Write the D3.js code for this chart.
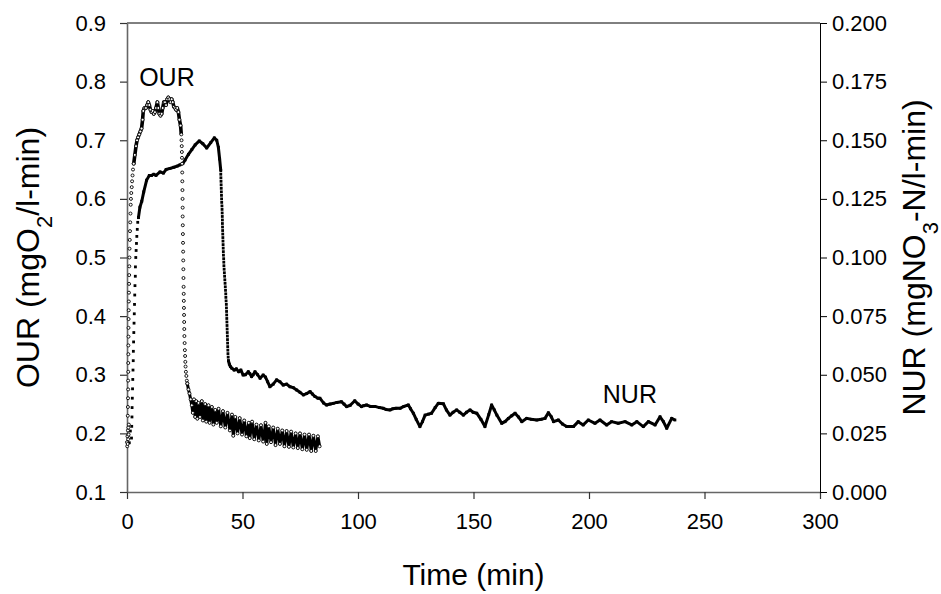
<!DOCTYPE html>
<html lang="en">
<head>
  <meta charset="utf-8">
  <script src="https://cdn.jsdelivr.net/npm/d3@7"></script>
  <style>
    body {
      margin: 0;
      background: #fff;
      font-family: "Liberation Sans", Arial, sans-serif;
    }
    .axis text {
      font-family: "Liberation Sans", Arial, sans-serif;
      font-size: 22px;
      fill: #000;
    }
    .axis-left .domain, .axis-bottom .domain { stroke: #666; stroke-width: 1.6; }
    .axis-left .tick line, .axis-bottom .tick line { stroke: #333; stroke-width: 1.2; }
    .axis-right .domain, .axis-right .tick line { stroke: #000; stroke-width: 1; }
    .title {
      font-family: "Liberation Sans", Arial, sans-serif;
      font-size: 30px;
      fill: #000;
    }
    .title.side { font-size: 32px; }
    .label {
      font-family: "Liberation Sans", Arial, sans-serif;
      font-size: 25px;
      fill: #000;
    }
    .dense { fill: none; stroke: #000; stroke-linejoin: round; }
    .our-dot { fill: #fff; stroke: #000; stroke-width: 0.9; }
    .nur-dot { fill: #000; }
  </style>
</head>
<body>
  <svg id="chart" width="941" height="594"></svg>
  <script>
    // axis ticks
    var timeTicks = [0, 50, 100, 150, 200, 250, 300];
    var ourTicks = [0.1, 0.2, 0.3, 0.4, 0.5, 0.6, 0.7, 0.8, 0.9];
    var nurTicks = [0, 0.025, 0.05, 0.075, 0.1, 0.125, 0.15, 0.175, 0.2];

    // OUR (mgO2/l-min), [time, value]
    var ourRise = [[0.0,0.185],[0.1,0.178],[0.2,0.195],[0.3,0.182],[0.4,0.205],[0.5,0.19],[0.6,0.21],[0.7,0.198],[0.8,0.215],
      [0.35,0.23],[0.4,0.245],[0.45,0.26],[0.5,0.275],[0.5,0.29],[0.55,0.305],[0.55,0.32],[0.6,0.335],[0.6,0.35],[0.65,0.365],
      [0.65,0.38],[0.7,0.395],[0.75,0.41],[0.8,0.425],[0.85,0.44],[0.9,0.455],[0.95,0.47],[1.0,0.485],[1.05,0.50],[1.1,0.515],
      [1.2,0.53],[1.3,0.545],[1.4,0.56],[1.5,0.575],[1.6,0.59],[1.7,0.60],[1.85,0.61],[2.05,0.62],[2.2,0.63],[2.4,0.64],[2.6,0.65],[2.9,0.66]];
    var ourPlateau = [[2.9,0.66],[3.4,0.675],[3.9,0.69],[4.35,0.70],[4.8,0.705],[5.3,0.71],[5.8,0.715],[6.3,0.72],[6.75,0.735],
      [7.05,0.75],[7.55,0.755],[8.2,0.755],[8.7,0.76],[9.2,0.765],[9.65,0.76],[10.15,0.752],[10.65,0.748],[11.1,0.75],[11.6,0.745],
      [12.1,0.748],[12.55,0.755],[13.15,0.765],[13.55,0.755],[14.0,0.745],[14.5,0.742],[15.0,0.745],[15.45,0.755],[15.95,0.765],
      [16.45,0.765],[16.9,0.76],[17.4,0.77],[17.9,0.773],[18.35,0.77],[18.85,0.765],[19.35,0.77],[19.8,0.765],[20.3,0.757],
      [20.8,0.755],[21.25,0.752],[21.75,0.755],[22.25,0.748],[22.7,0.735],[23.2,0.725],[23.5,0.71]];
    var ourDrop = [[23.6,0.70],[23.7,0.69],[23.75,0.68],[23.8,0.67],[23.85,0.66],[23.9,0.645],[23.95,0.63],[24.0,0.615],
      [24.05,0.60],[24.1,0.585],[24.1,0.57],[24.15,0.555],[24.2,0.54],[24.25,0.525],[24.3,0.51],[24.35,0.495],[24.4,0.48],
      [24.45,0.465],[24.5,0.45],[24.55,0.438],[24.6,0.426],[24.65,0.414],[24.7,0.402],[24.75,0.39],[24.8,0.378],[24.85,0.366],
      [24.95,0.354],[25.05,0.342],[25.15,0.332],[25.25,0.322],[25.35,0.314],[25.5,0.305],[25.7,0.298],[25.9,0.29],[26.1,0.285]];
    var ourTail = [[26.1,0.285],[26.6,0.275],[27.05,0.268],[27.55,0.258],[28.05,0.248],[28.5,0.235],[29,0.258],[29.5,0.228],
      [29.95,0.255],[30.45,0.225],[30.95,0.252],[31.6,0.228],[32.4,0.255],[32.85,0.222],[33.85,0.25],[34.3,0.22],[35.3,0.248],
      [35.75,0.218],[36.75,0.245],[37.4,0.215],[38.2,0.24],[38.85,0.218],[39.65,0.242],[40.6,0.212],[41.55,0.238],[42.55,0.21],
      [43.5,0.235],[44.55,0.205],[45.45,0.232],[46,0.196],[46.9,0.228],[47.85,0.2],[48.8,0.226],[49.8,0.198],[50.75,0.222],
      [51.7,0.195],[52.7,0.218],[53.15,0.192],[54.15,0.22],[55.1,0.19],[56.05,0.215],[57.05,0.188],[58,0.214],[58.95,0.186],
      [59.95,0.218],[60.5,0.182],[61.4,0.212],[62.35,0.185],[63.3,0.21],[64.3,0.18],[65.25,0.208],[66.2,0.182],[67.2,0.205],
      [68.15,0.178],[69.1,0.204],[70.1,0.177],[71.05,0.203],[72,0.176],[73,0.2],[73.95,0.175],[74.9,0.2],[75.9,0.173],
      [76.85,0.198],[77.8,0.172],[78.8,0.198],[79.75,0.17],[80.7,0.196],[81.7,0.17],[82.65,0.195],[83.4,0.178]];

    // NUR (mgNO3-N/l-min), [time, value]
    var nurRise = [[0.5,0.024],[1.0,0.021],[1.45,0.026],[1.95,0.023],[2.05,0.028],[2.15,0.032],[2.2,0.036],[2.3,0.04],[2.4,0.044],
      [2.5,0.048],[2.6,0.052],[2.7,0.056],[2.75,0.06],[2.85,0.064],[2.95,0.068],[3.05,0.072],[3.15,0.076],[3.25,0.08],
      [3.35,0.084],[3.45,0.088],[3.6,0.092],[3.65,0.096],[3.8,0.1],[3.95,0.103],[4.1,0.106],[4.25,0.109],[4.45,0.112],
      [4.65,0.115],[4.95,0.117]];
    var nurPlateau = [[4.95,0.117],[5.6,0.1215],[6.4,0.124],[7.25,0.128],[8.5,0.133],[9.65,0.135],[10.65,0.135],[11.6,0.1355],
      [12.55,0.135],[14.3,0.1365],[15.75,0.136],[16.9,0.1375],[18.65,0.138],[20.3,0.1385],[21.75,0.139],[22.9,0.1395],[24.15,0.14],
      [25.15,0.1416],[26.6,0.144],[28.05,0.146],[29.5,0.148],[31.3,0.1497],[32.85,0.1485],[34.5,0.1467],[36.25,0.149],[37.8,0.151],
      [38.85,0.15],[39.55,0.147],[40.1,0.142],[40.6,0.137]];
    var nurDrop = [[40.6,0.1355],[40.65,0.134],[40.7,0.1325],[40.75,0.131],[40.8,0.1295],[40.85,0.128],[40.9,0.1265],
      [40.95,0.125],[41.0,0.1235],[41.1,0.122],[41.15,0.1205],[41.2,0.119],[41.25,0.1175],[41.3,0.116],[41.3,0.1145],
      [41.35,0.113],[41.4,0.1115],[41.45,0.11],[41.5,0.1085],[41.55,0.107],[41.6,0.1055],[41.65,0.104],[41.7,0.1025],
      [41.75,0.101],[41.85,0.0995],[41.9,0.098],[41.95,0.0965],[42.05,0.095],[42.15,0.0935],[42.25,0.092],[42.35,0.0905],
      [42.45,0.089],[42.55,0.0875],[42.65,0.086],[42.75,0.0845],[42.8,0.083],[42.9,0.0815],[43.0,0.08],[43.05,0.0785],
      [43.1,0.077],[43.15,0.0755],[43.2,0.074],[43.25,0.0725],[43.3,0.071],[43.35,0.0695],[43.4,0.068],[43.45,0.0665],
      [43.5,0.065],[43.55,0.0635],[43.6,0.062],[43.65,0.0605],[43.7,0.059],[43.8,0.0575],[43.9,0.056]];
    var nurTail = [[43.9,0.056],[44.3,0.0545],[44.75,0.0535],[45.35,0.0528],[46.4,0.052],[47.35,0.0525],[48.35,0.0513],
      [49.3,0.052],[50.25,0.0499],[51.25,0.05],[52.5,0.0513],[53.15,0.0505],[53.95,0.0492],[54.6,0.05],[55.4,0.0513],
      [56.55,0.05],[57.6,0.0485],[58.95,0.0499],[59.95,0.049],[60.9,0.047],[61.85,0.0449],[63.3,0.046],[64.75,0.0478],
      [66.2,0.047],[67.65,0.0456],[69.1,0.046],[70.55,0.0449],[72,0.0445],[73.45,0.0435],[74.9,0.0425],[76.35,0.0414],
      [77.8,0.042],[79.25,0.0428],[80.25,0.0418],[81.4,0.0407],[82.65,0.04],[83.5,0.04],[85.05,0.038],[86.4,0.0371],
      [87.95,0.0375],[89.3,0.0378],[90.85,0.0382],[92.8,0.0385],[93.95,0.0375],[95.1,0.0364],[96.65,0.037],[98.6,0.0389],
      [100.05,0.0375],[101.5,0.0364],[102.45,0.0368],[103.7,0.0371],[105.35,0.0365],[107.3,0.0365],[109.25,0.036],
      [110.95,0.0357],[112.15,0.0352],[113.9,0.035],[115.05,0.0355],[116.5,0.0357],[118.2,0.0357],[119.85,0.0365],
      [121.8,0.0371],[122.75,0.0355],[123.95,0.0336],[125.2,0.031],[126.8,0.0279],[127.9,0.030],[129.05,0.0328],
      [130.5,0.0332],[131.85,0.0336],[133.4,0.036],[134.75,0.0378],[137,0.0376],[138.25,0.035],[139.8,0.0328],
      [141.15,0.034],[142.7,0.035],[144.05,0.034],[145.6,0.0328],[146.95,0.034],[148.5,0.035],[149.85,0.034],
      [151.4,0.0336],[153.2,0.031],[154.95,0.0279],[156.6,0.033],[157.85,0.0371],[159,0.035],[160.1,0.0328],
      [162.2,0.0293],[163.65,0.030],[165.1,0.0314],[166.55,0.0325],[168,0.0336],[169.45,0.032],[170.9,0.03],
      [173.05,0.0314],[175,0.031],[177.4,0.0307],[179.3,0.031],[180.95,0.0314],[182.4,0.0338],[183.7,0.032],
      [184.65,0.03],[186.75,0.0307],[188.5,0.029],[190.35,0.0279],[193.25,0.0279],[195.35,0.03],[197.5,0.0286],
      [199.7,0.0307],[202.6,0.0293],[204.75,0.0307],[207.65,0.0286],[209.75,0.03],[212.65,0.0293],[215.6,0.03],
      [218.5,0.0286],[220.7,0.03],[223.5,0.0279],[225.7,0.03],[228.6,0.0286],[230.75,0.0321],[232.2,0.03],
      [233.65,0.0272],[235.8,0.0314],[237.2,0.0307]];

    // in-plot labels: text, time, value, which axis
    var seriesLabels = [["OUR", 17.3, 0.7925, "left"], ["NUR", 217.7, 0.038, "right"]];

    var svg = d3.select("#chart");

    var x = d3.scaleLinear().domain([0, 300]).range([127, 820]);
    var yL = d3.scaleLinear().domain([0.1, 0.9]).range([492, 23]);
    var yR = d3.scaleLinear().domain([0, 0.2]).range([492, 23]);

    // frame top line
    svg.append("line")
        .attr("x1", x(0)).attr("x2", x(300))
        .attr("y1", yL(0.9)).attr("y2", yL(0.9))
        .attr("stroke", "#000").attr("stroke-width", 1);

    svg.append("g")
        .attr("class", "axis axis-bottom")
        .attr("transform", "translate(0," + yL(0.1) + ")")
        .call(d3.axisBottom(x).tickValues(timeTicks).tickSize(7).tickSizeOuter(0).tickPadding(14));

    svg.append("g")
        .attr("class", "axis axis-left")
        .attr("transform", "translate(" + x(0) + ",0)")
        .call(d3.axisLeft(yL).tickValues(ourTicks).tickFormat(d3.format(".1f")).tickSize(7).tickSizeOuter(0).tickPadding(14));

    svg.append("g")
        .attr("class", "axis axis-right")
        .attr("transform", "translate(" + x(300) + ",0)")
        .call(d3.axisRight(yR).tickValues(nurTicks).tickFormat(d3.format(".3f")).tickSize(7).tickSizeOuter(0).tickPadding(5));

    // axis titles
    svg.append("text")
        .attr("class", "title")
        .attr("x", (x(0) + x(300)) / 2)
        .attr("y", 585)
        .attr("text-anchor", "middle")
        .text("Time (min)");

    var lt = svg.append("text")
        .attr("class", "title side")
        .attr("text-anchor", "middle")
        .attr("transform", "translate(39," + yL(0.5) + ") rotate(-90)");
    lt.append("tspan").text("OUR (mgO");
    lt.append("tspan").attr("baseline-shift", "sub").attr("font-size", "22px").text("2");
    lt.append("tspan").text("/l-min)");

    var rt = svg.append("text")
        .attr("class", "title side")
        .attr("text-anchor", "middle")
        .attr("transform", "translate(925," + yL(0.5) + ") rotate(-90)");
    rt.append("tspan").text("NUR (mgNO");
    rt.append("tspan").attr("baseline-shift", "sub").attr("font-size", "22px").text("3");
    rt.append("tspan").text("-N/l-min)");

    // series
    var lineL = d3.line().x(function(d) { return x(d[0]); }).y(function(d) { return yL(d[1]); });
    var lineR = d3.line().x(function(d) { return x(d[0]); }).y(function(d) { return yR(d[1]); });

    // dense stretches, where the markers run together
    [nurPlateau, nurTail].forEach(function(seg) {
      svg.append("path").datum(seg).attr("class", "dense").attr("stroke-width", 3).attr("d", lineR);
    });
    svg.append("path").datum(ourPlateau).attr("class", "dense").attr("stroke-width", 3.6).attr("d", lineL);
    svg.append("path").datum(ourTail).attr("class", "dense").attr("stroke-width", 3).attr("d", lineL);

    var nurAll = nurRise.concat(nurPlateau, nurDrop, nurTail);
    svg.append("g").selectAll("rect")
        .data(nurAll)
      .enter().append("rect")
        .attr("class", "nur-dot")
        .attr("x", function(d) { return x(d[0]) - 1.4; })
        .attr("y", function(d) { return yR(d[1]) - 1.4; })
        .attr("width", 2.8)
        .attr("height", 2.8);

    var ourAll = ourRise.concat(ourPlateau, ourDrop, ourTail);
    svg.append("g").selectAll("circle")
        .data(ourAll)
      .enter().append("circle")
        .attr("class", "our-dot")
        .attr("cx", function(d) { return x(d[0]); })
        .attr("cy", function(d) { return yL(d[1]); })
        .attr("r", 1.5);

    svg.append("g").selectAll("text")
        .data(seriesLabels)
      .enter().append("text")
        .attr("class", "label")
        .attr("text-anchor", "middle")
        .attr("x", function(d) { return x(d[1]); })
        .attr("y", function(d) { return d[3] === "left" ? yL(d[2]) : yR(d[2]); })
        .text(function(d) { return d[0]; });
  </script>
</body>
</html>
